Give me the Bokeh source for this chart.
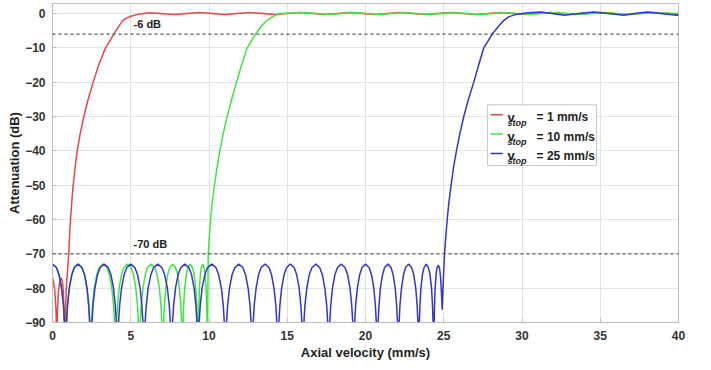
from bokeh.plotting import figure
from bokeh.models import Range1d, FixedTicker, Span
from bokeh.core.properties import value
from bokeh.embed import file_html
from bokeh.resources import INLINE

# ---------------- data ----------------
red_x = [0, 0.08, 0.15, 0.22, 0.27, 0.32, 0.38, 0.46, 0.55, 0.63, 0.69, 0.74, 0.78,
         0.88, 1.04, 1.09, 1.15, 1.23, 1.32, 1.44, 1.58, 1.77, 2.0, 2.28, 2.6, 2.95, 3.39,
         3.92, 4.2, 4.5, 4.8, 5.0, 5.5, 6.2,
         7.8, 9.4, 11.0, 12.6, 14.2, 15.8, 17.4, 19.0, 20.6, 22.2, 23.8, 25.4, 27.0, 28.6,
         30.2, 31.8, 33.4, 35.0, 36.6, 38.2, 39.8, 40.0]
red_y = [-77, -78.5, -81, -86, -95, -86, -81, -78, -77, -78, -81, -86, -95,
         -80, -70, -65, -60, -55, -50, -45, -40, -35, -30, -25, -20, -15, -10,
         -6, -4, -2, -1.2, -0.8, -0.2, 0.2,
         -0.3, 0.3, -0.3, 0.3, -0.3, 0.3, -0.3, 0.3, -0.3, 0.3, -0.3, 0.3, -0.3, 0.3,
         -0.3, 0.3, -0.3, 0.3, -0.3, 0.3, -0.3, -0.2]

green_x = [0, 0.25, 0.415, 0.58, 0.70, 0.83,
           0.96, 1.07, 1.23, 1.39, 1.63, 1.87, 2.03, 2.19, 2.30, 2.43,
           2.56, 2.67, 2.83, 2.99, 3.23, 3.47, 3.63, 3.79, 3.90, 4.03,
           4.15, 4.26, 4.41, 4.56, 4.79, 5.02, 5.17, 5.32, 5.43, 5.55,
           5.67, 5.78, 5.93, 6.08, 6.30, 6.53, 6.68, 6.83, 6.93, 7.05,
           7.15, 7.24, 7.36, 7.49, 7.68, 7.86, 7.99, 8.11, 8.20, 8.30,
           8.38, 8.45, 8.55, 8.65, 8.80, 8.95, 9.05, 9.15, 9.22, 9.30,
           9.35, 9.39, 9.45, 9.51, 9.60, 9.69, 9.75, 9.81, 9.85, 9.90,
           9.95, 10.02, 10.1, 10.21, 10.35, 10.51, 10.69, 10.91, 11.16, 11.45, 11.76,
           12.08, 12.44, 12.97, 13.3, 13.7, 14.05, 14.3, 14.57,
           16.1, 17.7, 19.3, 20.9, 22.5, 24.1, 25.7, 27.3, 28.9, 30.5, 32.1, 33.7, 35.3,
           36.9, 38.5, 40.0]
green_y = [-73, -74, -76, -80, -85, -95,
           -85, -80, -76, -74, -73, -74, -76, -80, -85, -95,
           -85, -80, -76, -74, -73, -74, -76, -80, -85, -95,
           -85, -80, -76, -74, -73, -74, -76, -80, -85, -95,
           -85, -80, -76, -74, -73, -74, -76, -80, -85, -95,
           -85, -80, -76, -74, -73, -74, -76, -80, -85, -95,
           -85, -80, -76, -74, -73, -74, -76, -80, -85, -95,
           -85, -80, -76, -74, -73, -74, -76, -80, -85, -95,
           -70, -65, -60, -55, -50, -45, -40, -35, -30, -25, -20,
           -15, -10, -6, -4, -2, -1, -0.4, 0,
           0.3, -0.3, 0.3, -0.3, 0.3, -0.3, 0.3, -0.3, 0.3, -0.3, 0.3, -0.3, 0.3,
           -0.3, 0.3, 0.0]

blue_x = [0, 0.25, 0.415, 0.58, 0.70, 0.83,
          0.96, 1.07, 1.24, 1.40, 1.64, 1.88, 2.05, 2.21, 2.32, 2.45,
          2.59, 2.71, 2.88, 3.05, 3.30, 3.56, 3.73, 3.90, 4.01, 4.15,
          4.29, 4.41, 4.58, 4.75, 5.00, 5.26, 5.43, 5.60, 5.71, 5.85,
          5.99, 6.11, 6.29, 6.46, 6.73, 6.99, 7.16, 7.34, 7.46, 7.60,
          7.74, 7.86, 8.03, 8.20, 8.45, 8.71, 8.88, 9.05, 9.16, 9.30,
          9.44, 9.56, 9.74, 9.91, 10.18, 10.44, 10.61, 10.79, 10.91, 11.05,
          11.19, 11.31, 11.48, 11.65, 11.91, 12.16, 12.33, 12.50, 12.62, 12.76,
          12.89, 13.01, 13.17, 13.33, 13.58, 13.83, 13.99, 14.15, 14.27, 14.40,
          14.53, 14.64, 14.80, 14.96, 15.20, 15.44, 15.60, 15.76, 15.87, 16.00,
          16.13, 16.25, 16.41, 16.58, 16.83, 17.07, 17.24, 17.40, 17.52, 17.65,
          17.78, 17.89, 18.05, 18.21, 18.45, 18.69, 18.85, 19.01, 19.12, 19.25,
          19.37, 19.48, 19.63, 19.78, 20.00, 20.23, 20.38, 20.53, 20.63, 20.75,
          20.86, 20.95, 21.09, 21.22, 21.43, 21.63, 21.76, 21.90, 21.99, 22.10,
          22.20, 22.30, 22.43, 22.56, 22.75, 22.95, 23.08, 23.21, 23.30, 23.40,
          23.48, 23.54, 23.64, 23.74, 23.88, 24.02, 24.12, 24.22, 24.28, 24.36,
          24.41, 24.45, 24.51, 24.57, 24.66, 24.74, 24.80, 24.85, 24.90,
          24.95, 25.05, 25.13, 25.22, 25.33, 25.47, 25.62, 25.81, 26.03, 26.28, 26.58,
          26.92, 27.23, 27.56, 28.10, 28.45, 28.84, 29.15, 29.5, 30.0,
          30.6, 31.2, 31.9, 32.7, 33.6, 34.6, 35.5, 36.5, 37.2, 38.0, 38.9, 39.9, 40.0]
blue_y = [-73, -74, -76, -80, -85, -95,
          -85, -80, -76, -74, -73, -74, -76, -80, -85, -95,
          -85, -80, -76, -74, -73, -74, -76, -80, -85, -95,
          -85, -80, -76, -74, -73, -74, -76, -80, -85, -95,
          -85, -80, -76, -74, -73, -74, -76, -80, -85, -95,
          -85, -80, -76, -74, -73, -74, -76, -80, -85, -95,
          -85, -80, -76, -74, -73, -74, -76, -80, -85, -95,
          -85, -80, -76, -74, -73, -74, -76, -80, -85, -95,
          -85, -80, -76, -74, -73, -74, -76, -80, -85, -95,
          -85, -80, -76, -74, -73, -74, -76, -80, -85, -95,
          -85, -80, -76, -74, -73, -74, -76, -80, -85, -95,
          -85, -80, -76, -74, -73, -74, -76, -80, -85, -95,
          -85, -80, -76, -74, -73, -74, -76, -80, -85, -95,
          -85, -80, -76, -74, -73, -74, -76, -80, -85, -95,
          -85, -80, -76, -74, -73, -74, -76, -80, -85, -95,
          -85, -80, -76, -74, -73, -74, -76, -80, -85, -95,
          -85, -80, -76, -74, -73.3, -74.5, -77, -81, -86.3,
          -80, -70, -65, -60, -55, -50, -45, -40, -35, -30, -25,
          -20, -15, -10, -6, -4, -2, -1, -0.4, 0.0,
          0.3, 0.4, 0.0, -0.5, 0.0, 0.4, 0.0, -0.5, 0.0, 0.4, 0.0, -0.5, -0.5]

threshold_levels = [-6, -70]
threshold_labels = ["-6 dB", "-70 dB"]
legend_stops = ["= 1 mm/s", "= 10 mm/s", "= 25 mm/s"]
x_ticks = [0, 5, 10, 15, 20, 25, 30, 35, 40]
y_ticks = [-90, -80, -70, -60, -50, -40, -30, -20, -10, 0]

# ---------------- styling ----------------
FONT = value("Liberation Sans")
RED, GREEN, BLUE = "#ea4545", "#40e640", "#3535c8"
colors = [RED, GREEN, BLUE]

p = figure(width=700, height=362, output_backend="svg", toolbar_location=None,
           x_range=Range1d(0, 40), y_range=Range1d(-90, 2.9),
           min_border_left=52, min_border_right=22, min_border_top=3, min_border_bottom=38)
p.outline_line_color = "#bdbdbd"
p.background_fill_color = "white"
p.border_fill_color = "white"

for ax in (p.xaxis[0], p.yaxis[0]):
    ax.major_label_text_font = "Liberation Sans"
    ax.major_label_text_font_style = "bold"
    ax.major_label_text_font_size = "12px"
    ax.major_label_text_color = "#333333"
    ax.axis_label_text_font = "Liberation Sans"
    ax.axis_label_text_font_style = "bold"
    ax.axis_label_text_font_size = "13px"
    ax.axis_label_text_color = "#222222"
    ax.axis_line_color = "#bdbdbd"
    ax.major_tick_line_color = "#bdbdbd"
    ax.major_tick_out = 0
    ax.major_tick_in = 4
    ax.minor_tick_line_color = None

p.xaxis.ticker = FixedTicker(ticks=x_ticks)
p.yaxis.ticker = FixedTicker(ticks=y_ticks)
p.xaxis.axis_label = "Axial velocity (mm/s)"
p.yaxis.axis_label = "Attenuation (dB)"
p.xaxis.major_label_standoff = 8
p.xaxis.axis_label_standoff = 2
p.yaxis.major_label_standoff = 7
p.yaxis.axis_label_standoff = 0

p.xgrid.grid_line_color = "#e3e3e3"
p.ygrid.grid_line_color = "#e3e3e3"

# threshold lines
for lvl in threshold_levels:
    p.add_layout(Span(location=lvl, dimension="width", line_color="#555555",
                      line_dash="3 3", line_width=1.3))

p.text(x=[5.18, 5.18], y=[-3.2, -67.2], text=threshold_labels, text_font=FONT,
       text_font_style="bold", text_font_size="11px", text_color="#222222",
       text_baseline="alphabetic", text_align="left")

# curves
p.line(red_x, red_y, line_color=RED, line_width=1.5)
p.line(green_x, green_y, line_color=GREEN, line_width=1.5)
p.line(blue_x, blue_y, line_color=BLUE, line_width=1.5)

# legend (hand-built to allow the subscript), drawn after the curves
p.quad(left=[27.8], right=[34.76], top=[-26.6], bottom=[-44.3],
       fill_color="white", line_color="#c8c8c8", line_width=1)
base_y = [-30.2, -35.84, -41.48]
line_y = [-29.5, -35.1, -40.8]
p.segment(x0=[27.99] * 3, x1=[28.77] * 3, y0=line_y, y1=line_y,
          line_color=colors, line_width=1.5)
p.text(x=[29.07] * 3, y=base_y, text=["v"] * 3, text_font=FONT, text_font_style="bold",
       text_font_size="13px", text_color="#222222", text_baseline="alphabetic")
p.text(x=[29.07] * 3, y=[b - 1.6 for b in base_y], text=["stop"] * 3, text_font=FONT,
       text_font_style="bold italic", text_font_size="9px", text_color="#222222",
       text_baseline="alphabetic")
p.text(x=[30.93] * 3, y=base_y, text=legend_stops, text_font=FONT, text_font_style="bold",
       text_font_size="12px", text_color="#222222", text_baseline="alphabetic")

open("out.html", "w").write(file_html(p, INLINE))
